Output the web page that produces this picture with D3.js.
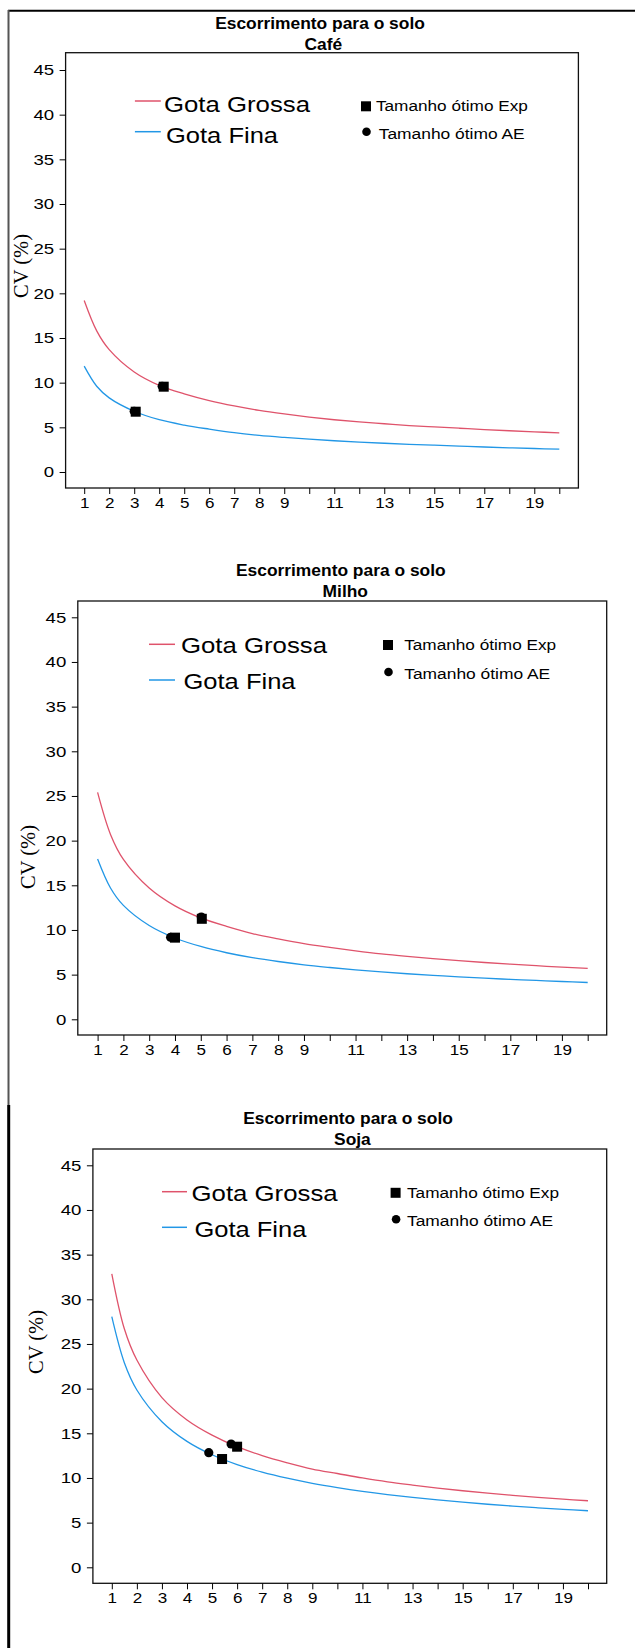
<!DOCTYPE html>
<html><head><meta charset="utf-8">
<script src="https://cdn.jsdelivr.net/npm/d3@7"></script>
<style>body{margin:0;background:#fff}svg{display:block}</style>
</head><body>
<svg id="c" width="635" height="1648"></svg>
<script>
// ---------- data ----------
const plotSizes = [1,1.5,2,3,4,5,6,7,8,9,10,11,12,13,14,15,16,17,18,19,20];
const xTickValues = [1,2,3,4,5,6,7,8,9,10,11,12,13,14,15,16,17,18,19,20];
const xTickLabels = ["1","2","3","4","5","6","7","8","9","","11","","13","","15","","17","","19",""];
const yTickValues = [0,5,10,15,20,25,30,35,40,45];
const titleLine1 = "Escorrimento para o solo";
const cropNames = ["Café","Milho","Soja"];
const seriesNames = ["Gota Grossa","Gota Fina"];
const markerNames = ["Tamanho ótimo Exp","Tamanho ótimo AE"];
const yLabel = "CV (%)";

const cafeGrossa  = [19.2,15.8,13.7,11.2,9.7,8.75,8.0,7.4,6.9,6.5,6.15,5.85,5.6,5.4,5.2,5.05,4.9,4.75,4.62,4.5,4.38];
const cafeFina    = [11.85,9.6,8.3,6.8,5.85,5.25,4.8,4.4,4.1,3.87,3.67,3.5,3.35,3.22,3.1,3.0,2.9,2.8,2.71,2.63,2.55];
const milhoGrossa = [25.4,20.7,17.9,14.7,12.7,11.35,10.4,9.6,9.0,8.47,8.05,7.67,7.33,7.05,6.8,6.57,6.36,6.17,6.0,5.84,5.7];
const milhoFina   = [17.95,14.7,12.75,10.5,9.1,8.15,7.45,6.9,6.47,6.1,5.8,5.53,5.3,5.1,4.92,4.75,4.6,4.47,4.35,4.23,4.12];
const sojaGrossa  = [32.85,26.7,23.2,19.0,16.5,14.8,13.5,12.5,11.7,11.0,10.5,10.0,9.56,9.2,8.87,8.57,8.3,8.05,7.83,7.63,7.45];
const sojaFina    = [28.05,22.9,19.85,16.3,14.1,12.6,11.5,10.65,9.97,9.4,8.92,8.5,8.14,7.83,7.55,7.29,7.06,6.85,6.66,6.49,6.33];

// optimum sizes [size, CV]
const cafeExp  = [[4.18,9.55],[3.06,6.75]];
const cafeAE   = [[4.12,9.6],[3.0,6.8]];
const milhoExp = [[5.04,11.25],[4.0,9.14]];
const milhoAE  = [[5.02,11.45],[3.83,9.18]];
const sojaExp  = [[6.0,13.5],[5.4,12.12]];
const sojaAE   = [[5.76,13.8],[4.87,12.83]];

const grossaSeries = [cafeGrossa, milhoGrossa, sojaGrossa];
const finaSeries   = [cafeFina, milhoFina, sojaFina];
const expPoints    = [cafeExp, milhoExp, sojaExp];
const aePoints     = [cafeAE, milhoAE, sojaAE];

// ---------- layout ----------
const layouts = [
  {left:65.6, right:578.4, top:52.7, bottom:488, y0:472, y45:70, x1:84.2, x20:559.3,
   t1:[320,28.7], t2:[323.4,49.7], cv:[21,266],
   lgLine:[134.9,160.8], lgY:[101,131.7], lgTx:[164,166], lgTy:[111.7,142.7],
   mkX:366, mkY:[106.3,131.7], mkTx:[375.9,378.7], mkTy:[111,139.3]},
  {left:77.8, right:606.7, top:601, bottom:1035, y0:1019.3, y45:617.3, x1:97.6, x20:587.7,
   t1:[340.8,576], t2:[345.3,597.3], cv:[28,857],
   lgLine:[149,175], lgY:[644.3,680], lgTx:[181,183.5], lgTy:[653.3,689],
   mkX:388, mkY:[645,672], mkTx:[404.2,404.2], mkTy:[650,678.7]},
  {left:92.9, right:606.7, top:1149, bottom:1583.3, y0:1567.3, y45:1165.3, x1:111.8, x20:588,
   t1:[348,1124.3], t2:[352.4,1145], cv:[36,1342],
   lgLine:[162,187], lgY:[1191.7,1227.3], lgTx:[191.6,194.4], lgTy:[1200.7,1236.7],
   mkX:395.6, mkY:[1192.8,1219.3], mkTx:[407,407], mkTy:[1198.3,1225.7]}
];

const FONT = "'Liberation Sans', Arial, Helvetica, sans-serif";
const RED = "#DF536B", BLUE = "#2297E6";
const svg = d3.select("#c");

function stretch(sel, k){
  sel.each(function(){
    const L = this.getComputedTextLength();
    this.setAttribute("textLength", L*k);
    this.setAttribute("lengthAdjust","spacingAndGlyphs");
  });
}
function fixW(sel, w){ sel.attr("textLength", w).attr("lengthAdjust","spacingAndGlyphs"); }

// outer frame
svg.append("line").attr("x1",8).attr("x2",635).attr("y1",10.8).attr("y2",10.8).attr("stroke","#000").attr("stroke-width",2);
svg.append("line").attr("x1",8.5).attr("x2",8.5).attr("y1",10).attr("y2",1105).attr("stroke","#555").attr("stroke-width",2);
svg.append("line").attr("x1",8.7).attr("x2",8.7).attr("y1",1105).attr("y2",1648).attr("stroke","#000").attr("stroke-width",3);

layouts.forEach((L,i)=>{
  const x = d3.scaleLinear().domain([1,20]).range([L.x1, L.x20]);
  const y = d3.scaleLinear().domain([0,45]).range([L.y0, L.y45]);
  const g = svg.append("g");

  // box
  g.append("rect").attr("x",L.left).attr("y",L.top).attr("width",L.right-L.left).attr("height",L.bottom-L.top)
    .attr("fill","none").attr("stroke","#111").attr("stroke-width",1.3);

  // y axis
  const ya = g.append("g").attr("transform",`translate(${L.left},0)`)
    .call(d3.axisLeft(y).tickValues(yTickValues).tickSize(6).tickPadding(5.5).tickFormat(d3.format("d")));
  ya.select(".domain").remove();
  ya.selectAll("line").attr("stroke","#000");
  ya.selectAll("text").attr("font-family",FONT).attr("font-size",15.5).attr("fill","#000");
  stretch(ya.selectAll("text"), 1.2);

  // x axis
  const xa = g.append("g").attr("transform",`translate(0,${L.bottom})`)
    .call(d3.axisBottom(x).tickValues(xTickValues).tickSize(6).tickPadding(2.9).tickFormat((d,k)=>xTickLabels[k]));
  xa.select(".domain").remove();
  xa.selectAll("line").attr("stroke","#000");
  xa.selectAll("text").attr("font-family",FONT).attr("font-size",15.5).attr("fill","#000");
  stretch(xa.selectAll("text").filter(function(){return this.textContent.length>0;}), 1.1);

  // titles
  g.append("text").attr("x",L.t1[0]).attr("y",L.t1[1]).attr("text-anchor","middle")
    .attr("font-family",FONT).attr("font-weight","bold").attr("font-size",17.4).text(titleLine1);
  g.append("text").attr("x",L.t2[0]).attr("y",L.t2[1]).attr("text-anchor","middle")
    .attr("font-family",FONT).attr("font-weight","bold").attr("font-size",17.4).text(cropNames[i]);

  // y label
  g.append("text").attr("transform",`translate(${L.cv[0]},${L.cv[1]}) rotate(-90)`)
    .attr("text-anchor","middle").attr("dy","0.35em")
    .attr("font-family","'Liberation Serif','Times New Roman',serif").attr("font-size",20.5).text(yLabel);

  // curves
  const line = d3.line().x((d,k)=>x(plotSizes[k])).y(d=>y(d)).curve(d3.curveCatmullRom.alpha(0.5));
  g.append("path").datum(grossaSeries[i]).attr("d",line).attr("fill","none").attr("stroke",RED).attr("stroke-width",1.3);
  g.append("path").datum(finaSeries[i]).attr("d",line).attr("fill","none").attr("stroke",BLUE).attr("stroke-width",1.3);

  // markers: AE circles then Exp squares
  g.selectAll("circle.ae").data(aePoints[i]).join("circle").attr("class","ae")
    .attr("cx",d=>x(d[0])).attr("cy",d=>y(d[1])).attr("r",4.6).attr("fill","#000");
  g.selectAll("rect.exp").data(expPoints[i]).join("rect").attr("class","exp")
    .attr("x",d=>x(d[0])-5).attr("y",d=>y(d[1])-5).attr("width",10).attr("height",10).attr("fill","#000");

  // legend: lines
  [RED,BLUE].forEach((c,k)=>{
    g.append("line").attr("x1",L.lgLine[0]).attr("x2",L.lgLine[1]).attr("y1",L.lgY[k]).attr("y2",L.lgY[k])
      .attr("stroke",c).attr("stroke-width",1.5);
    const t = g.append("text").attr("x",L.lgTx[k]).attr("y",L.lgTy[k]).attr("font-family",FONT)
      .attr("font-size",22).text(seriesNames[k]);
    fixW(t, k===0 ? 146 : 112);
  });
  // legend: markers
  g.append("rect").attr("x",L.mkX-5).attr("y",L.mkY[0]-5).attr("width",10).attr("height",10).attr("fill","#000");
  g.append("circle").attr("cx",L.mkX+0.5).attr("cy",L.mkY[1]).attr("r",4.3).attr("fill","#000");
  markerNames.forEach((m,k)=>{
    const t = g.append("text").attr("x",L.mkTx[k]).attr("y",L.mkTy[k]).attr("font-family",FONT)
      .attr("font-size",15.5).text(m);
    fixW(t, k===0 ? 152 : 146);
  });
});
</script>
</body></html>
